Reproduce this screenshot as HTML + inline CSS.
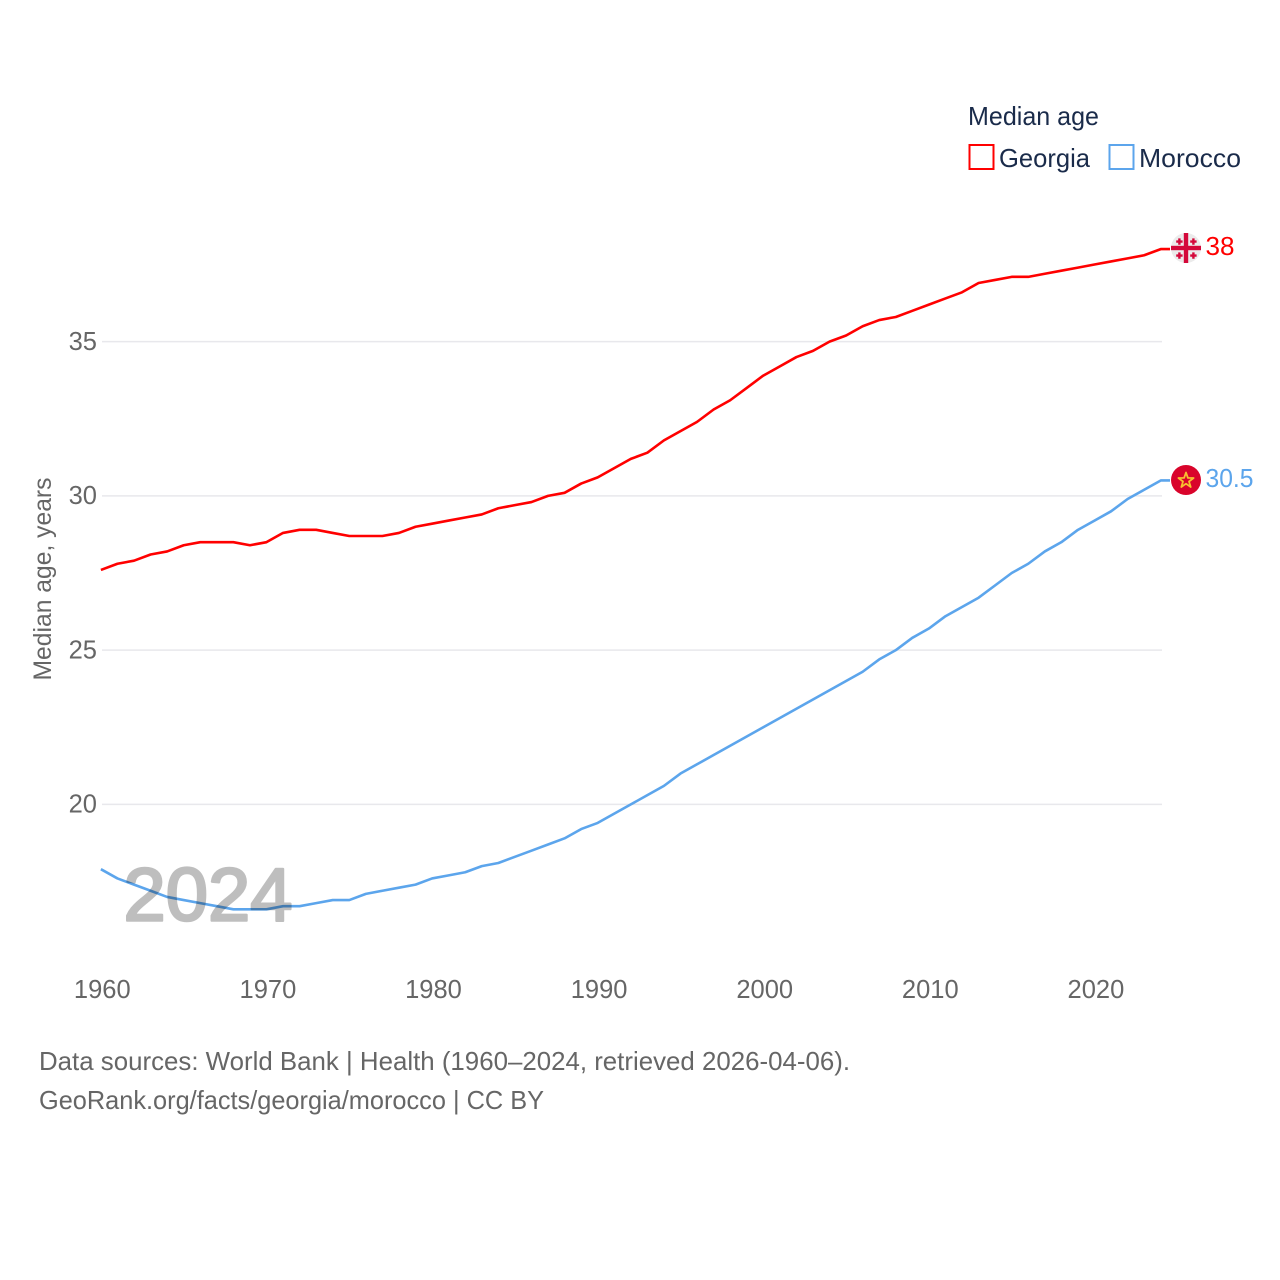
<!DOCTYPE html>
<html lang="en">
<head>
<meta charset="utf-8">
<title>Median age: Georgia and Morocco</title>
<style>
html,body{margin:0;padding:0;background:#fff}
svg{display:block}
text{font-family:"Liberation Sans",sans-serif}
</style>
</head>
<body>
<svg id="chart" width="1280" height="1280" viewBox="0 0 1280 1280" xmlns="http://www.w3.org/2000/svg">
<rect width="1280" height="1280" fill="#fff"/>
<g id="grid"></g>
<g id="ylabels"></g>
<g id="xlabels"></g>
<text x="51" y="579" transform="rotate(-90 51 579)" text-anchor="middle" font-size="25" fill="#666" textLength="203" lengthAdjust="spacingAndGlyphs">Median age, years</text>
<g id="lines"></g>
<text x="123.5" y="920.5" font-size="75" fill="#000" stroke="#000" stroke-width="2.6" stroke-linejoin="round" opacity="0.25" textLength="169" lengthAdjust="spacingAndGlyphs">2024</text>

<text x="968" y="125" font-size="26" fill="#1a2b4a" textLength="131" lengthAdjust="spacingAndGlyphs">Median age</text>
<g>
<rect x="969.5" y="145" width="24" height="24" fill="none" stroke="#ff0000" stroke-width="2"/>
<text x="999" y="167" font-size="26" fill="#1a2b4a" textLength="91" lengthAdjust="spacingAndGlyphs">Georgia</text>
</g>
<g>
<rect x="1109.5" y="145" width="24" height="24" fill="none" stroke="#5ca5ec" stroke-width="2"/>
<text x="1139" y="167" font-size="26" fill="#1a2b4a" textLength="102" lengthAdjust="spacingAndGlyphs">Morocco</text>
</g>

<g id="flag-georgia">
<circle cx="1186" cy="248" r="15" fill="#ebebeb"/>
<rect x="1171" y="245.8" width="30" height="4.4" fill="#d4083a"/>
<rect x="1183.8" y="233" width="4.4" height="30" fill="#d4083a"/>
<path d="M1178.2 238.4h2.4v2h2v2.4h-2v2h-2.4v-2h-2v-2.4h2z M1192.2 238.4h2.4v2h2v2.4h-2v2h-2.4v-2h-2v-2.4h2z M1178.2 252.4h2.4v2h2v2.4h-2v2h-2.4v-2h-2v-2.4h2z M1192.2 252.4h2.4v2h2v2.4h-2v2h-2.4v-2h-2v-2.4h2z" fill="#d4083a"/>
</g>
<g id="flag-morocco">
<circle cx="1186" cy="480" r="15" fill="#d9042b"/>
<path d="M1186 472.5L1187.9 477.9L1193.6 478L1189 481.5L1190.7 487L1186 483.7L1181.3 487L1183 481.5L1178.4 478L1184.1 477.9Z" fill="none" stroke="#f7c030" stroke-width="1.8" stroke-linejoin="round"/>
</g>
<text x="1205.5" y="255" font-size="26" fill="#ff0000" textLength="29" lengthAdjust="spacingAndGlyphs">38</text>
<text x="1205.5" y="487" font-size="26" fill="#5ca5ec" textLength="48" lengthAdjust="spacingAndGlyphs">30.5</text>

<text x="39" y="1070" font-size="26" fill="#666" textLength="811" lengthAdjust="spacingAndGlyphs">Data sources: World Bank | Health (1960–2024, retrieved 2026-04-06).</text>
<text x="39" y="1109" font-size="26" fill="#666" textLength="505" lengthAdjust="spacingAndGlyphs">GeoRank.org/facts/georgia/morocco | CC BY</text>
</svg>
<script>
const startYear = 1960;
const georgiaValues = [27.6,27.8,27.9,28.1,28.2,28.4,28.5,28.5,28.5,28.4,28.5,28.8,28.9,28.9,28.8,28.7,28.7,28.7,28.8,29.0,29.1,29.2,29.3,29.4,29.6,29.7,29.8,30.0,30.1,30.4,30.6,30.9,31.2,31.4,31.8,32.1,32.4,32.8,33.1,33.5,33.9,34.2,34.5,34.7,35.0,35.2,35.5,35.7,35.8,36.0,36.2,36.4,36.6,36.9,37.0,37.1,37.1,37.2,37.3,37.4,37.5,37.6,37.7,37.8,38.0];
const moroccoValues = [17.9,17.6,17.4,17.2,17.0,16.9,16.8,16.7,16.6,16.6,16.6,16.7,16.7,16.8,16.9,16.9,17.1,17.2,17.3,17.4,17.6,17.7,17.8,18.0,18.1,18.3,18.5,18.7,18.9,19.2,19.4,19.7,20.0,20.3,20.6,21.0,21.3,21.6,21.9,22.2,22.5,22.8,23.1,23.4,23.7,24.0,24.3,24.7,25.0,25.4,25.7,26.1,26.4,26.7,27.1,27.5,27.8,28.2,28.5,28.9,29.2,29.5,29.9,30.2,30.5];
const yTicks = [20,25,30,35];
const xTicks = [1960,1970,1980,1990,2000,2010,2020];

const NS = 'http://www.w3.org/2000/svg';
function xScale(year){ return 100.9 + (year - 1960) * 16.56; }
function yScale(v){ return 804.4 - (v - 20) * 30.85; }

const grid = document.getElementById('grid');
const ylabels = document.getElementById('ylabels');
const xlabels = document.getElementById('xlabels');

yTicks.forEach(function(t){
  const l = document.createElementNS(NS,'line');
  
  
  l.setAttribute('x1', 102);
  l.setAttribute('x2', 1162);
  l.setAttribute('y1', yScale(t));
  l.setAttribute('y2', yScale(t));
  l.setAttribute('stroke', '#e8e8ec');
  l.setAttribute('stroke-width', '1.5');
  grid.appendChild(l);
  const s = document.createElementNS(NS,'text');
  
  
  s.setAttribute('x', 97);
  s.setAttribute('y', yScale(t) + 8.2);
  s.setAttribute('text-anchor', 'end');
  s.setAttribute('font-size', '25.5');
  s.setAttribute('fill', '#666');
  s.textContent = t;
  ylabels.appendChild(s);
});

xTicks.forEach(function(t){
  const s = document.createElementNS(NS,'text');
  
  
  s.setAttribute('x', xScale(t) + 1.4);
  s.setAttribute('y', 998);
  s.setAttribute('text-anchor', 'middle');
  s.setAttribute('font-size', '25.5');
  s.setAttribute('fill', '#666');
  s.textContent = t;
  xlabels.appendChild(s);
});

function drawSeries(values, color, seriesName){
  const pts = values.map(function(v,i){ return xScale(startYear + i).toFixed(2) + ',' + yScale(v).toFixed(2); });
  const last = values[values.length - 1];
  pts.push('1170,' + yScale(last).toFixed(2));
  const p = document.createElementNS(NS,'polyline');
  
  
  p.setAttribute('points', pts.join(' '));
  p.setAttribute('fill', 'none');
  p.setAttribute('stroke', color);
  p.setAttribute('stroke-width', '2.6');
  p.setAttribute('stroke-linejoin', 'round');
  document.getElementById('lines').appendChild(p);
}
drawSeries(georgiaValues, '#ff0000', 'georgia-line');
drawSeries(moroccoValues, '#5ca5ec', 'morocco-line');
</script>
</body>
</html>
